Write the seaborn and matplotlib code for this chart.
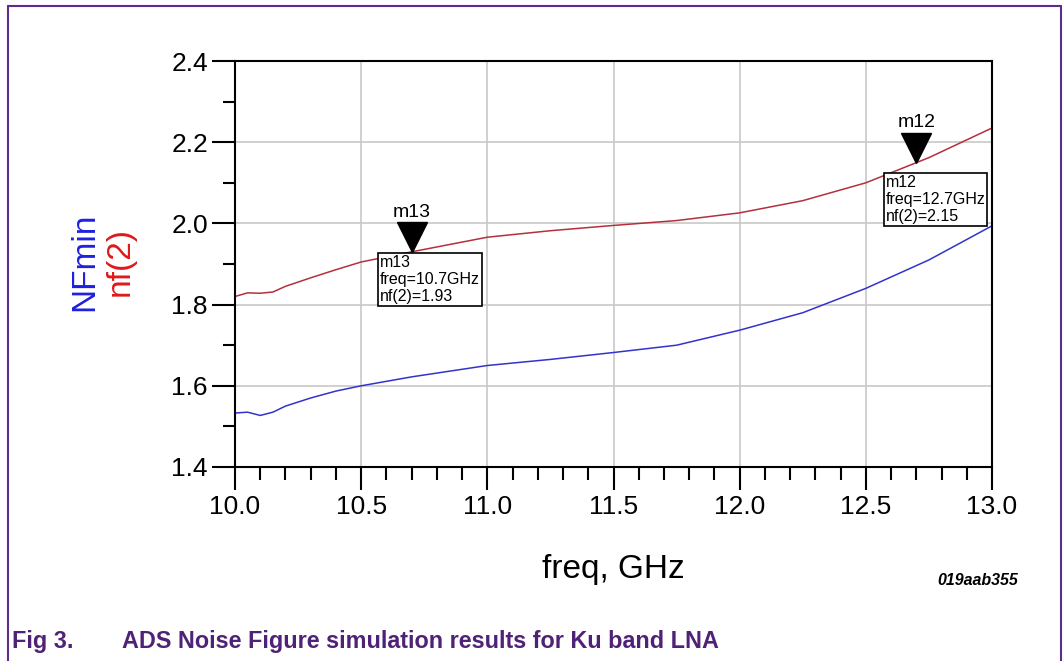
"""ADS noise figure simulation plot for a Ku band LNA."""

import matplotlib

matplotlib.use("Agg")

import matplotlib.pyplot as plt
import matplotlib.transforms as mtransforms
from matplotlib.lines import Line2D
from matplotlib.ticker import MultipleLocator
import pandas as pd
import seaborn as sns

freq_ghz = [10.0, 10.05, 10.1, 10.15, 10.2, 10.3, 10.4, 10.5, 10.7, 11.0,
            11.25, 11.5, 11.75, 12.0, 12.25, 12.5, 12.75, 13.0]
nf_min = [1.533, 1.535, 1.527, 1.535, 1.55, 1.57, 1.587, 1.60, 1.622, 1.65,
          1.665, 1.682, 1.70, 1.737, 1.78, 1.84, 1.91, 1.994]
nf_2 = [1.82, 1.829, 1.828, 1.831, 1.845, 1.866, 1.886, 1.905, 1.93, 1.966,
        1.982, 1.995, 2.007, 2.026, 2.056, 2.10, 2.162, 2.235]

marker_names = ["m13", "m12"]
marker_freq = [10.7, 12.7]
marker_nf = [1.93, 2.15]

x_ticks = [10.0, 10.5, 11.0, 11.5, 12.0, 12.5, 13.0]
y_ticks = [1.4, 1.6, 1.8, 2.0, 2.2, 2.4]

BLUE = "#3333cc"
RED = "#b3303c"
PURPLE = "#4f2277"


def main() -> None:
    sns.set_style("white")
    plt.rcParams["font.family"] = ["Liberation Sans", "DejaVu Sans"]

    df = pd.DataFrame({"freq": freq_ghz, "NFmin": nf_min, "nf(2)": nf_2})

    fig = plt.figure(figsize=(10.63, 6.61), dpi=100)
    ax = fig.add_axes([0.2211, 0.2935, 0.7121, 0.6142])

    sns.lineplot(data=df, x="freq", y="NFmin", ax=ax, color=BLUE, linewidth=1.1)
    sns.lineplot(data=df, x="freq", y="nf(2)", ax=ax, color=RED, linewidth=1.1)

    ax.set_xlim(10.0, 13.0)
    ax.set_ylim(1.4, 2.4)
    ax.set_xticks(x_ticks)
    ax.set_xticklabels([f"{v:.1f}" for v in x_ticks])
    ax.set_yticks(y_ticks)
    ax.set_yticklabels([f"{v:.1f}" for v in y_ticks])
    ax.xaxis.set_minor_locator(MultipleLocator(0.1))
    ax.yaxis.set_minor_locator(MultipleLocator(0.1))
    ax.tick_params(axis="both", which="both", bottom=True, left=True,
                   top=False, right=False)
    ax.tick_params(axis="both", which="major", direction="out", length=16.5,
                   width=1.5, color="black", labelsize=19, labelcolor="black", pad=3)
    ax.tick_params(axis="both", which="minor", direction="out", length=9,
                   width=1.5, color="black")
    ax.tick_params(axis="x", which="major", pad=4)
    ax.grid(True, which="major", color="#c8c8c8", linewidth=1.2)
    ax.set_axisbelow(True)
    for spine in ax.spines.values():
        spine.set_color("black")
        spine.set_linewidth(1.5)
        spine.set_visible(True)

    ax.set_xlabel("")
    ax.set_ylabel("")

    # markers with readout boxes
    tri_offset = mtransforms.offset_copy(ax.transData, fig=fig, x=0, y=10.4, units="points")
    box_offsets = [(-23, -2.5), (-22, -9)]
    for name, fx, fy, (dx, dy) in zip(marker_names, marker_freq, marker_nf, box_offsets):
        ax.plot([fx], [fy], marker="v", markersize=21, color="black",
                transform=tri_offset, clip_on=False)
        ax.annotate(name, (fx, fy), xytext=(0, 22.5), textcoords="offset points",
                    ha="center", va="bottom", fontsize=14, color="black")
        ax.annotate(f"{name}\nfreq={fx:.1f}GHz\nnf(2)={fy:.2f}", (fx, fy),
                    xytext=(dx, dy), textcoords="offset points", ha="left", va="top",
                    fontsize=11.5, linespacing=1.15, color="black",
                    bbox=dict(boxstyle="square,pad=0.12", facecolor="white",
                              edgecolor="black", linewidth=1.2))

    fig.text(0.080, 0.604, "NFmin", color="#1f1fe0", fontsize=24, rotation=90,
             ha="center", va="center")
    fig.text(0.113, 0.604, "nf(2)", color="#e01818", fontsize=24, rotation=90,
             ha="center", va="center")
    fig.text(0.577, 0.138, "freq, GHz", fontsize=24, color="black",
             ha="center", va="center")
    fig.text(0.958, 0.122, "019aab355", fontsize=11.5, fontweight="bold",
             fontstyle="italic", color="black", ha="right", va="center")

    fig.text(0.011, 0.029, "Fig 3.", color=PURPLE, fontsize=16.8, fontweight="bold",
             ha="left", va="center")
    fig.text(0.115, 0.029, "ADS Noise Figure simulation results for Ku band LNA",
             color=PURPLE, fontsize=16.8, fontweight="bold", ha="left", va="center")

    # page frame (open at the bottom)
    frame = dict(color="#5a2e8c", linewidth=1.5, transform=fig.transFigure)
    fig.add_artist(Line2D([0.0075, 0.0075], [0.0, 0.991], **frame))
    fig.add_artist(Line2D([0.0075, 0.9985], [0.991, 0.991], **frame))
    fig.add_artist(Line2D([0.9985, 0.9985], [0.0, 0.991], **frame))

    fig.savefig("out.png", dpi=100)
    plt.close(fig)


if __name__ == "__main__":
    main()
